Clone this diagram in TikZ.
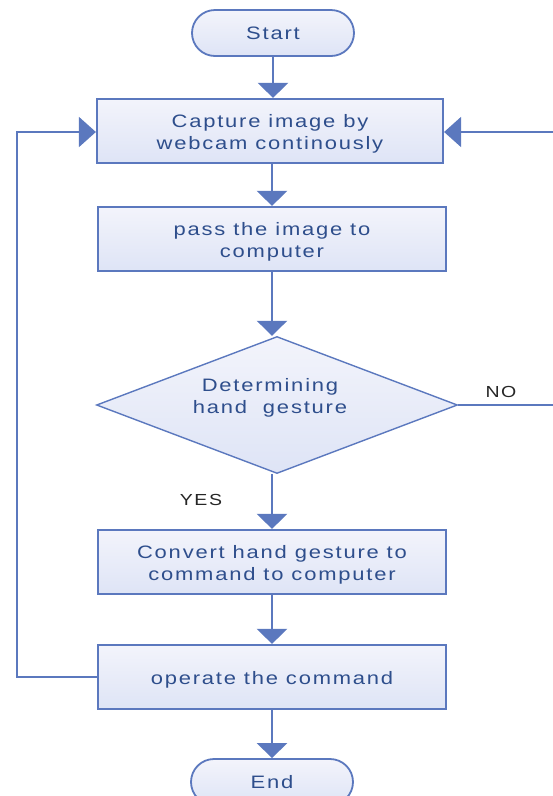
\documentclass[tikz,border=0pt]{standalone}
\usepackage{fontspec}
\newfontfamily\diafont[FakeStretch=1.22,LetterSpace=10]{Liberation Sans}
\usetikzlibrary{shapes.geometric,arrows.meta}
\definecolor{edge}{HTML}{5B78BE}
\definecolor{filltop}{HTML}{F3F4FB}
\definecolor{fillbot}{HTML}{DEE4F6}
\definecolor{txtc}{HTML}{2E4E8C}
\newcommand{\lowtext}[1]{\raisebox{-3pt}[\height][\depth]{\begin{tabular}{@{}c@{}}#1\end{tabular}}}
\tikzset{
  base/.style={draw=edge, line width=2.2pt, top color=filltop, bottom color=fillbot,
    font=\diafont\fontsize{18}{22}\selectfont, text=txtc, align=center, inner sep=0pt},
  procbox/.style={base, rectangle, minimum width=348pt, minimum height=64pt},
  pill/.style={base, rectangle, rounded corners=23pt, minimum width=162pt, minimum height=46pt, line width=1.8pt},
  dec/.style={base, diamond, minimum width=361pt, minimum height=137pt, line width=1.4pt},
  conn/.style={draw=edge, line width=2.6pt, -{Triangle[width=30pt,length=15pt]}},
  loop/.style={draw=edge, line width=1.8pt, -{Triangle[width=30pt,length=17pt]}},
  lbl/.style={font=\diafont\fontsize{16}{18}\selectfont, text=black!85}
}
\begin{document}
\begin{tikzpicture}[x=1pt,y=-1pt]
\useasboundingbox (0,0) rectangle (553,796);
\clip (0,0) rectangle (553,796);
\node[pill] (start) at (273,33) {Start};
\node[procbox, minimum width=346pt] (cap) at (270,131) {\lowtext{Capture image by\\webcam continously}};
\node[procbox] (pass) at (272,239) {\lowtext{pass the image to\\computer}};
\node[dec] (det) at (277,405) {};
\node[font=\diafont\fontsize{18}{22}\selectfont, text=txtc, align=center] (dtxt) at (270,398) {Determining\\hand \ gesture};
\node[procbox] (conv) at (272,562) {\lowtext{Convert hand gesture to\\command to computer}};
\node[procbox] (oper) at (272,677) {\lowtext{operate the command}};
\node[pill] (end) at (272,782) {End};
\node[lbl] (no) at (501,392) {NO};
\node[lbl] (yes) at (201,500) {YES};
\coordinate (lb) at (17,677);
\coordinate (lt) at (17,132);
\coordinate (rb) at (560,405);
\coordinate (rt) at (560,132);
\draw[conn] (start.south) -- (start.south |- cap.north);
\draw[conn] (cap.south -| pass.north) -- (pass.north);
\draw[conn] (pass.south) -- (pass.south |- det.north);
\draw[conn] (det.south -| conv.north) -- (conv.north);
\draw[conn] (conv.south) -- (oper.north);
\draw[conn] (oper.south) -- (end.north);
\draw[loop] (oper.west) -- (lb) -- (lt) -- (cap.west |- lt);
\draw[loop] (det.east) -- (rb) -- (rt) -- (cap.east |- rt);
\end{tikzpicture}
\end{document}
